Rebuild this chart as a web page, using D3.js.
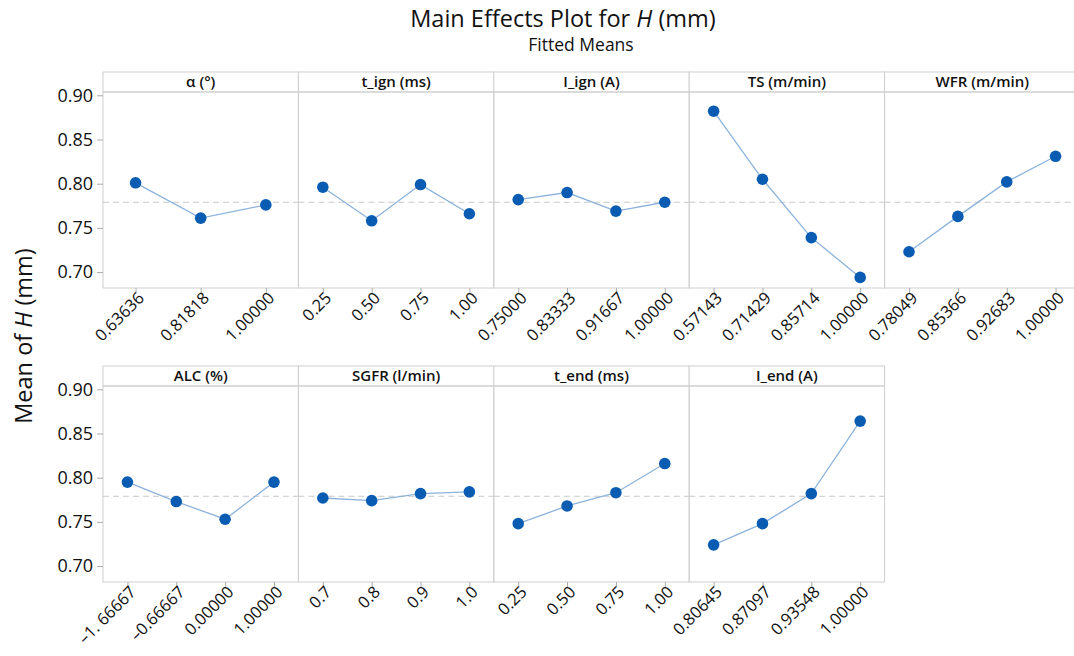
<!DOCTYPE html>
<html>
<head>
<meta charset="utf-8">
<script src="https://cdn.jsdelivr.net/npm/d3@7"></script>
<style>
  body { margin: 0; background: #fff; }
  svg { display: block; font-family: "Open Sans", "Noto Sans", sans-serif; }
</style>
</head>
<body>
<div id="chart"></div>
<script>
const factors = ["α (°)", "t_ign (ms)", "I_ign (A)", "TS (m/min)", "WFR (m/min)",
                 "ALC (%)", "SGFR (l/min)", "t_end (ms)", "I_end (A)"];

const levels = [
    ["0.63636", "0.81818", "1.00000"],
    ["0.25", "0.50", "0.75", "1.00"],
    ["0.75000", "0.83333", "0.91667", "1.00000"],
    ["0.57143", "0.71429", "0.85714", "1.00000"],
    ["0.78049", "0.85366", "0.92683", "1.00000"],
    ["\u20131. 66667", "\u20130.66667", "0.00000", "1.00000"],
    ["0.7", "0.8", "0.9", "1.0"],
    ["0.25", "0.50", "0.75", "1.00"],
    ["0.80645", "0.87097", "0.93548", "1.00000"]
];

const means = [
    [0.801, 0.761, 0.776],
    [0.796, 0.758, 0.799, 0.766],
    [0.782, 0.790, 0.769, 0.779],
    [0.882, 0.805, 0.739, 0.694],
    [0.723, 0.763, 0.802, 0.831],
    [0.795, 0.773, 0.753, 0.795],
    [0.777, 0.774, 0.782, 0.784],
    [0.748, 0.768, 0.783, 0.816],
    [0.724, 0.748, 0.782, 0.864]
];

const grandMean = 0.779;
const yTicks = [0.70, 0.75, 0.80, 0.85, 0.90];

const width = 1074;
const height = 656;
const left = 103;
const panelW = 195.4;
const headerH = 20;
const plotH = 196;
const rowTop = [72, 366];
const perRow = 5;

const svg = d3.select("#chart")
    .append("svg")
    .attr("width", width)
    .attr("height", height);

// Titles
const title = svg.append("text")
    .attr("x", 563)
    .attr("y", 27)
    .attr("text-anchor", "middle")
    .attr("font-size", "23.5px")
    .attr("fill", "#111");
title.append("tspan").text("Main Effects Plot for ");
title.append("tspan").attr("font-style", "italic").text("H");
title.append("tspan").text(" (mm)");

svg.append("text")
    .attr("x", 581)
    .attr("y", 51)
    .attr("text-anchor", "middle")
    .attr("font-size", "17.5px")
    .attr("font-weight", "500")
    .attr("fill", "#111")
    .text("Fitted Means");

const yLab = svg.append("text")
    .attr("transform", "translate(32,336) rotate(-90)")
    .attr("text-anchor", "middle")
    .attr("font-size", "23.5px")
    .attr("font-weight", "500")
    .attr("fill", "#111");
yLab.append("tspan").text("Mean of ");
yLab.append("tspan").attr("font-style", "italic").text("H");
yLab.append("tspan").text(" (mm)");

const y = d3.scaleLinear()
    .domain([0.682, 0.682 + plotH / 884])
    .range([plotH, 0]);

const line = d3.line();

factors.forEach((name, i) => {
    const row = Math.floor(i / perRow);
    const col = i % perRow;
    const px = left + col * panelW;
    const py = rowTop[row];
    const g = svg.append("g").attr("transform", `translate(${px},${py})`);

    // header strip
    g.append("rect")
        .attr("width", panelW)
        .attr("height", headerH)
        .attr("fill", "#fff")
        .attr("stroke", "#cfcfcf");
    g.append("text")
        .attr("x", panelW / 2)
        .attr("y", headerH / 2)
        .attr("dy", "0.35em")
        .attr("text-anchor", "middle")
        .attr("font-size", "15px")
        .attr("font-weight", "600")
        .attr("fill", "#111")
        .text(name);

    const plot = g.append("g").attr("transform", `translate(0,${headerH})`);
    plot.append("rect")
        .attr("width", panelW)
        .attr("height", plotH)
        .attr("fill", "none")
        .attr("stroke", "#cfcfcf");

    const x = d3.scalePoint()
        .domain(levels[i])
        .range([0, panelW])
        .padding(0.5);

    // x axis
    const xAxis = plot.append("g")
        .attr("transform", `translate(0,${plotH})`)
        .call(d3.axisBottom(x).tickSizeOuter(0).tickSize(5).tickPadding(3));
    xAxis.select(".domain").remove();
    xAxis.selectAll(".tick line").attr("stroke", "#aaa");
    xAxis.selectAll(".tick text")
        .attr("font-family", "\"Open Sans\", sans-serif")
        .attr("font-size", "16.5px")
        .attr("font-weight", "500")
        .attr("fill", "#111")
        .attr("text-anchor", "end")
        .attr("transform", "translate(5,7) rotate(-45)")
        .attr("dy", "0.35em")
        .attr("y", 0);

    // y axis on first column only
    if (col === 0) {
        const yAxis = plot.append("g")
            .call(d3.axisLeft(y).tickValues(yTicks).tickFormat(d3.format(".2f")).tickSize(6).tickPadding(4));
        yAxis.select(".domain").remove();
        yAxis.selectAll(".tick line").attr("stroke", "#aaa");
        yAxis.selectAll(".tick text")
            .attr("font-family", "\"Open Sans\", sans-serif")
            .attr("font-size", "18px")
            .attr("font-weight", "500")
            .attr("fill", "#111");
    }

    // reference (grand mean) line
    plot.append("line")
        .attr("x1", 0)
        .attr("x2", panelW)
        .attr("y1", y(grandMean))
        .attr("y2", y(grandMean))
        .attr("stroke", "#c8c8c8")
        .attr("stroke-dasharray", "6,4");

    const pts = levels[i].map((lv, j) => [x(lv), y(means[i][j])]);

    plot.append("path")
        .attr("d", line(pts))
        .attr("fill", "none")
        .attr("stroke", "#8db3dc")
        .attr("stroke-width", 1.3);

    plot.selectAll(".dot")
        .data(pts)
        .join("circle")
        .attr("class", "dot")
        .attr("cx", d => d[0])
        .attr("cy", d => d[1])
        .attr("r", 5.8)
        .attr("fill", "#0a5cb2");
});
</script>
</body>
</html>
